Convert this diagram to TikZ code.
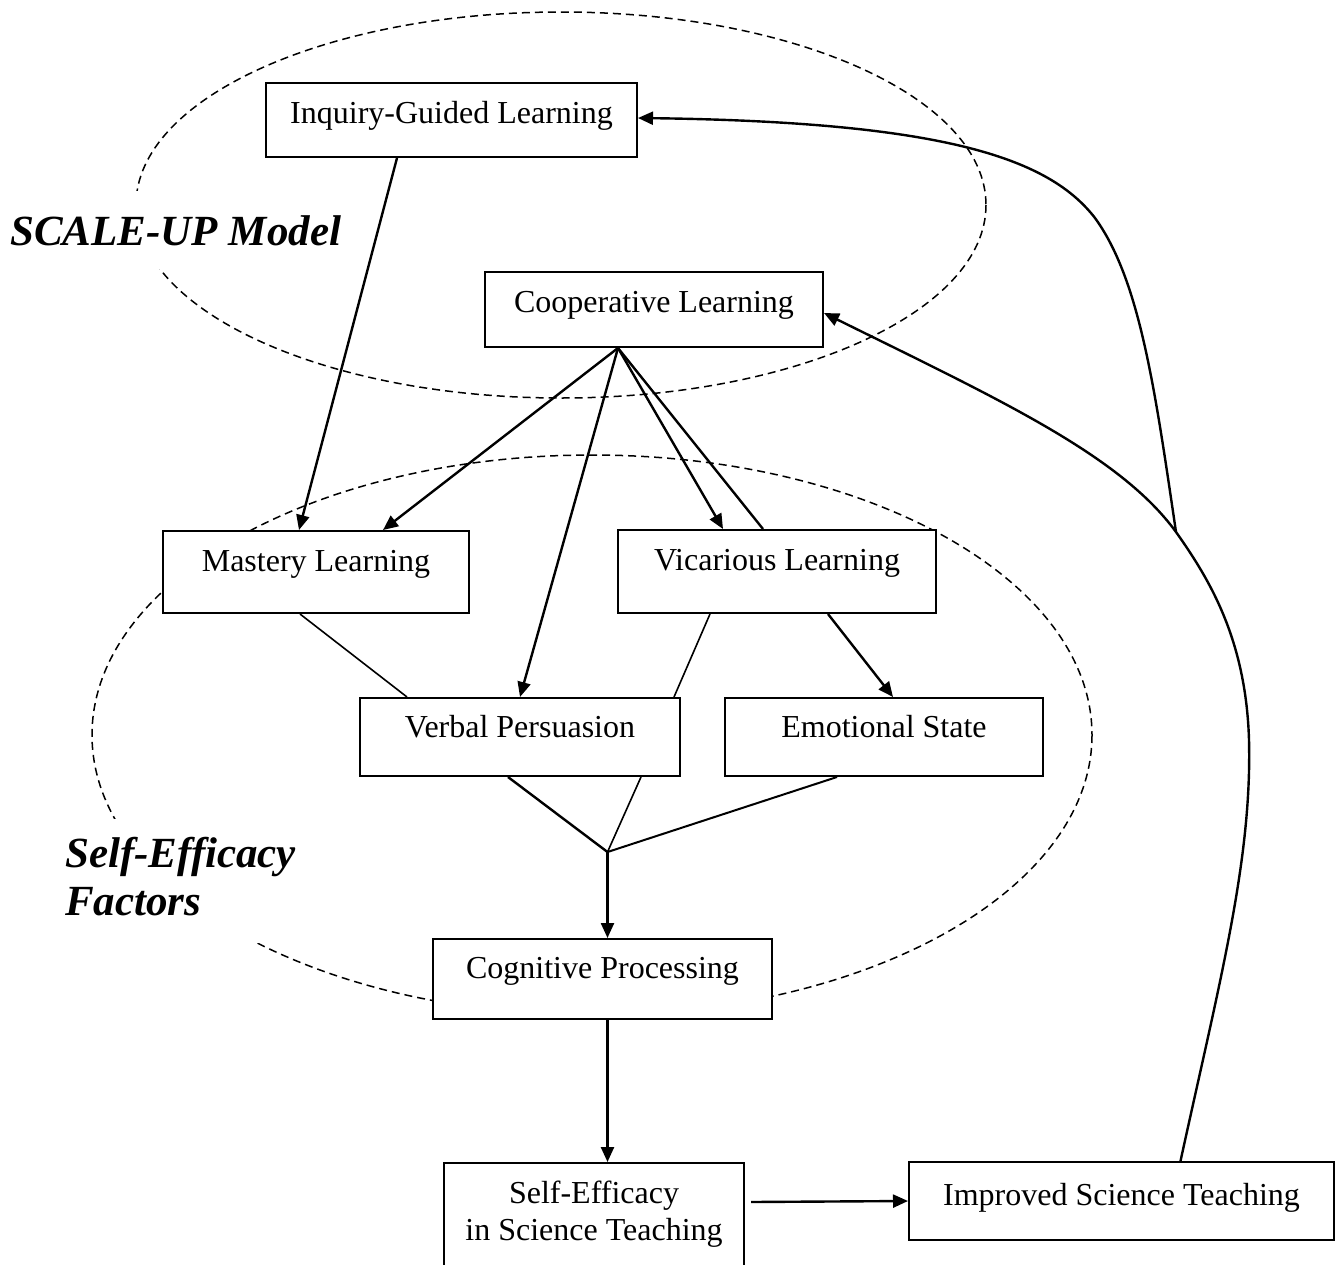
\documentclass[tikz,border=0pt]{standalone}
\usepackage{fontspec}
\setmainfont{Liberation Serif}
\usetikzlibrary{arrows.meta,calc}
\begin{document}
\begin{tikzpicture}[x=1pt,y=-1pt,
  box/.style={draw, line width=2pt, fill=white, inner sep=0pt, font=\fontsize{32}{37}\selectfont},
  arr/.style={line width=2.4pt, -{Triangle[length=15pt,width=13pt]}},
  ln/.style={line width=2.4pt},
  thinln/.style={line width=1.6pt},
  dsh/.style={dash pattern=on 8pt off 5pt, line width=1.5pt},
  lbl/.style={font=\fontsize{43}{48}\selectfont\bfseries\itshape, fill=white, inner xsep=2pt}
]
\useasboundingbox (0,0) rectangle (1341,1264);
\clip (0,0) rectangle (1341,1264);
\fill[white] (0,0) rectangle (1341,1264);

% dashed groupings
\draw[dsh] (561,205) ellipse [x radius=425, y radius=193];
\draw[dsh] (592,735) ellipse [x radius=500, y radius=280];

% group labels
\node[lbl, anchor=base west, inner ysep=24pt] (scaleup) at (8,245) {SCALE-UP Model};
\node[lbl, anchor=base west, inner ysep=14pt] (sefac) at (63,867)
  {\begin{tabular}[t]{@{}l@{}}Self-Efficacy\\Factors\end{tabular}};

% boxes
\node[box, minimum width=371pt, text height=40pt, text depth=34pt] (inq) at (451.5,120) {Inquiry-Guided Learning};
\node[box, minimum width=338pt, text height=40pt, text depth=35pt] (coop) at (654,309.5) {Cooperative Learning};
\node[box, minimum width=306pt, text height=40pt, text depth=42pt] (mast) at (316,572) {Mastery Learning};
\node[box, minimum width=318pt, text height=40pt, text depth=43pt] (vic) at (777,571.5) {Vicarious Learning};
\node[box, minimum width=320pt, text height=39pt, text depth=39pt] (verb) at (520,737) {Verbal Persuasion};
\node[box, minimum width=318pt, text height=39pt, text depth=39pt] (emo) at (884,737) {Emotional State};
\node[box, minimum width=339pt, text height=39pt, text depth=41pt] (cog) at (602.5,979) {Cognitive Processing};
\node[box, minimum width=300pt, text height=40pt, text depth=87pt] (sel) at (594,1226.5)
  {\begin{tabular}[t]{@{}c@{}}Self-Efficacy\\in Science Teaching\end{tabular}};
\node[box, minimum width=425pt, text height=43pt, text depth=35pt] (imp) at (1121.5,1201) {Improved Science Teaching};

% helper points
\coordinate (apex) at ([xshift=-36pt]coop.south);
\coordinate (junc) at ([xshift=5pt,yshift=86pt]cog.north);
\coordinate (fb) at (1176,532);

% connectors
\draw[arr] ([xshift=-54.5pt]inq.south) -- ([xshift=-17pt]mast.north);
\draw[arr] (apex) -- ([xshift=67pt]mast.north);
\draw[arr] (apex) -- (verb.north);
\draw[arr] (apex) -- ([xshift=-54pt]vic.north);
\draw[ln] (apex) -- ([xshift=-14pt]vic.north);
\draw[thinln] ([xshift=-16pt]mast.south) -- ([xshift=-113pt]verb.north);
\draw[thinln] ([xshift=-67pt]vic.south) -- ([xshift=154pt]verb.north);
\draw[arr] ([xshift=51pt]vic.south) -- ([xshift=9pt]emo.north);
\draw[ln] ([xshift=-12pt]verb.south) -- (junc);
\draw[thinln] ([xshift=121pt]verb.south) -- (junc);
\draw[ln, line width=2pt] ([xshift=-47pt]emo.south) -- (junc);
\draw[arr] (junc) -- ([xshift=5pt]cog.north);
\draw[arr] ([xshift=5pt]cog.south) -- ([xshift=13.5pt]sel.north);
\draw[arr] ([xshift=6pt,yshift=24.5pt]sel.east) -- (imp.west);

% feedback curves
\draw[arr] ([xshift=59pt]imp.north) .. controls (1220,980) and (1252,860) .. (1249,740)
  .. controls (1246,640) and (1210,580) .. (fb)
  .. controls (1120,455) and (1000,400) .. (coop.east |- 0,313);
\draw[arr] (fb) .. controls (1155,390) and (1140,280) .. (1095,218)
  .. controls (1050,160) and (950,122) .. (inq.east |- 0,118);
\end{tikzpicture}
\end{document}
